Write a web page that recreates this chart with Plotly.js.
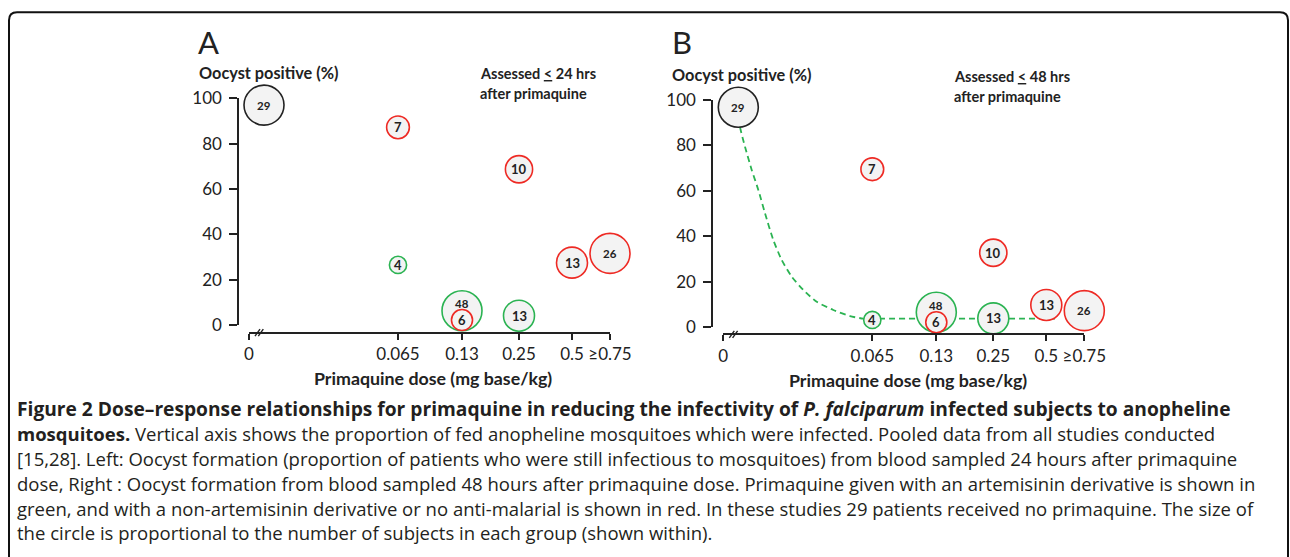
<!DOCTYPE html>
<html><head><meta charset="utf-8">
<script src="https://cdn.plot.ly/plotly-3.0.1.min.js"></script>
<style>html,body{margin:0;padding:0;background:#fff}#chart{width:1290px;height:557px}</style>
</head><body><div id="chart"></div>
<script>
// ---------- DATA ----------
// Dose tick labels (mg base/kg)
const doseLabels = ["0", "0.065", "0.13", "0.25", "0.5", "≥0.75"];

// Panel A: assessed ≤ 24 hrs after primaquine
const aDose  = ["0", "0.065", "0.065", "0.13", "0.13", "0.25", "0.25", "0.5", "≥0.75"];
const aPct   = [97.0, 87.2, 26.5, 6.3, 2.2, 68.7, 4.1, 27.5, 31.6];
const aN     = [29, 7, 4, 48, 6, 10, 13, 13, 26];
const aGroup = ["none", "other", "art", "art", "other", "other", "art", "other", "other"];

// Panel B: assessed ≤ 48 hrs after primaquine
const bDose  = ["0", "0.065", "0.065", "0.13", "0.13", "0.25", "0.25", "0.5", "≥0.75"];
const bPct   = [96.8, 69.5, 3.1, 6.5, 2.1, 32.7, 3.8, 9.7, 7.2];
const bN     = [29, 7, 4, 48, 6, 10, 13, 13, 26];
const bGroup = ["none", "other", "art", "art", "other", "other", "art", "other", "other"];

// Panel B fitted dose-response curve (in dose-axis units)
const curveX = [15, 16.7, 21.7, 28.4, 35, 41.7, 50, 58.4, 68.4, 80, 93.4, 110, 126.7, 140, 149, 335];
const curveY = [96.8, 88.2, 79.4, 69.2, 60.4, 50.1, 38.3, 29.5, 22.2, 16.3, 11.1, 7.5, 4.8, 3.7, 3.7, 3.7];

// ---------- AXIS / STYLE CONFIG ----------
const W = 1290, H = 557;
const px = v => v / W, py = v => 1 - v / H;
const doseAxisPos = [0, 149, 213, 270, 323, 361];   // non-linear dose axis tick positions
const zeroDoseShift = 15;                            // untreated group drawn right of the axis break
const groupColor = {none: "#222222", art: "#2bb352", other: "#ee2a24"};
const groupOrder = ["none", "art", "other"];
const ink = "#222222";
const FONT = "Lato, 'Open Sans', sans-serif";
const CAPFONT = "'Open Sans', Lato, sans-serif";

function dosePos(d) {
  const i = doseLabels.indexOf(d);
  return i === 0 ? doseAxisPos[0] + zeroDoseShift : doseAxisPos[i];
}
function diam(n) { return Math.min(8.6 * Math.sqrt(n), 40); }

const traces = [];
const annotations = [];
const shapes = [];

function addPanel(dose, pct, n, group, xa, ya) {
  groupOrder.forEach(g => {
    const idx = group.map((v, i) => v === g ? i : -1).filter(i => i >= 0);
    traces.push({
      type: "scatter", mode: "markers", xaxis: xa, yaxis: ya, cliponaxis: false,
      x: idx.map(i => dosePos(dose[i])), y: idx.map(i => pct[i]),
      marker: {size: idx.map(i => diam(n[i])), color: "#f3f3f3",
               line: {color: groupColor[g], width: 1.6}, opacity: 1},
      hoverinfo: "skip", showlegend: false
    });
  });
  n.forEach((v, i) => {
    // the large group's label sits above the overlapping small circle
    const overlapped = n.some((w, j) => j !== i && dose[j] === dose[i] && Math.abs(pct[j] - pct[i]) < 6 && w < v);
    annotations.push({
      xref: xa, yref: ya, x: dosePos(dose[i]), y: pct[i],
      text: "<b>" + v + "</b>", showarrow: false, yshift: overlapped ? 7 : 0,
      font: {family: FONT, size: v >= 26 ? 11.5 : 13, color: ink}
    });
  });
}

function axes(x0, yZero, y100, yAxisX, xAxisY) {
  const common = {showline: true, linewidth: 2, linecolor: ink, ticks: "outside", tickwidth: 2,
                  tickcolor: ink, showgrid: false, zeroline: false, fixedrange: true,
                  tickfont: {family: FONT, size: 17, color: ink}};
  return {
    x: Object.assign({}, common, {domain: [px(x0), px(x0 + 361)], range: [0, 361], anchor: "free",
        position: py(xAxisY), tickmode: "array", tickvals: doseAxisPos, ticktext: doseLabels, ticklen: 6,
        ticklabelstandoff: 0}),
    y: Object.assign({}, common, {domain: [py(yZero), py(y100)], range: [0, 100], anchor: "free",
        position: px(yAxisX), tickmode: "array", tickvals: [0, 20, 40, 60, 80, 100], ticklen: 8,
        ticklabelstandoff: 4})
  };
}

// curve behind the circles in panel B
traces.push({type: "scatter", mode: "lines", xaxis: "x2", yaxis: "y2", x: curveX, y: curveY,
  line: {color: "#2bb352", width: 1.8, dash: "6px,4px", shape: "spline", smoothing: 0.6},
  cliponaxis: false, hoverinfo: "skip", showlegend: false});

addPanel(aDose, aPct, aN, aGroup, "x", "y");
addPanel(bDose, bPct, bN, bGroup, "x2", "y2");

const A = axes(249, 325, 98.3, 238.3, 332.7);
const B = axes(723.3, 327, 100, 712.3, 334.3);

// axis breaks (//)
[[332.7, "x"], [334.3, "x2"]].forEach(([yl, xr]) => {
  [[6, 11], [9.3, 14.3]].forEach(([a, b]) => {
    shapes.push({type: "line", xref: xr, yref: "paper", x0: a, x1: b, y0: py(yl + 3.5), y1: py(yl - 3.5),
      line: {color: ink, width: 1.4}});
  });
});

// frame
const L = px(9), R = px(1288), T = py(12.3), Tr = py(20.3), Bt = py(620);
shapes.push({type: "path", xref: "paper", yref: "paper",
  path: `M ${L} ${Bt} L ${L} ${Tr} Q ${L} ${T} ${px(17)} ${T} L ${px(1280)} ${T} Q ${R} ${T} ${R} ${Tr} L ${R} ${Bt}`,
  line: {color: "#111", width: 2}});

function txt(x, y, text, size, opts) {
  annotations.push(Object.assign({xref: "paper", yref: "paper", x: px(x), y: py(y), text: text,
    showarrow: false, xanchor: "left", yanchor: "middle", font: {family: FONT, size: size, color: ink}}, opts || {}));
}
// panel letters and titles
txt(196, 42, "A", 31);
txt(670, 42, "B", 31);
txt(197, 73, "<b>Oocyst positive (%)</b>", 16.3);
txt(670, 74.5, "<b>Oocyst positive (%)</b>", 16.3);
txt(478, 74, "<b>Assessed <u>&lt;</u> 24 hrs</b>", 14.5);
txt(478, 94, "<b>after primaquine</b>", 14.5);
txt(952, 76.5, "<b>Assessed <u>&lt;</u> 48 hrs</b>", 14.5);
txt(952, 96.5, "<b>after primaquine</b>", 14.5);
txt(433, 378, "<b>Primaquine dose (mg base/kg)</b>", 17.8, {xanchor: "center"});
txt(907.5, 380, "<b>Primaquine dose (mg base/kg)</b>", 17.8, {xanchor: "center"});

// caption
const capLines = [
  "<b>Figure 2 Dose–response relationships for primaquine in reducing the infectivity of <i>P. falciparum</i> infected subjects to anopheline</b>",
  "<b>mosquitoes.</b> Vertical axis shows the proportion of fed anopheline mosquitoes which were infected. Pooled data from all studies conducted",
  "[15,28]. Left: Oocyst formation (proportion of patients who were still infectious to mosquitoes) from blood sampled 24 hours after primaquine",
  "dose, Right : Oocyst formation from blood sampled 48 hours after primaquine dose. Primaquine given with an artemisinin derivative is shown in",
  "green, and with a non-artemisinin derivative or no anti-malarial is shown in red. In these studies 29 patients received no primaquine. The size of",
  "the circle is proportional to the number of subjects in each group (shown within)."
];
const capY = [408, 433, 458, 483, 508, 532];
const capSize = [19.2, 18.5, 18.5, 18.5, 18.5, 18.5];
capLines.forEach((t, i) => txt(15, capY[i], t, capSize[i], {font: {family: CAPFONT, size: capSize[i], color: "#231f20"}}));

const layout = {
  width: W, height: H, margin: {l: 0, r: 0, t: 0, b: 0}, paper_bgcolor: "#fff", plot_bgcolor: "rgba(0,0,0,0)",
  showlegend: false, font: {family: FONT, color: ink},
  xaxis: A.x, yaxis: A.y, xaxis2: B.x, yaxis2: B.y,
  annotations: annotations, shapes: shapes
};
Plotly.newPlot("chart", traces, layout, {displayModeBar: false, staticPlot: true});
</script></body></html>
